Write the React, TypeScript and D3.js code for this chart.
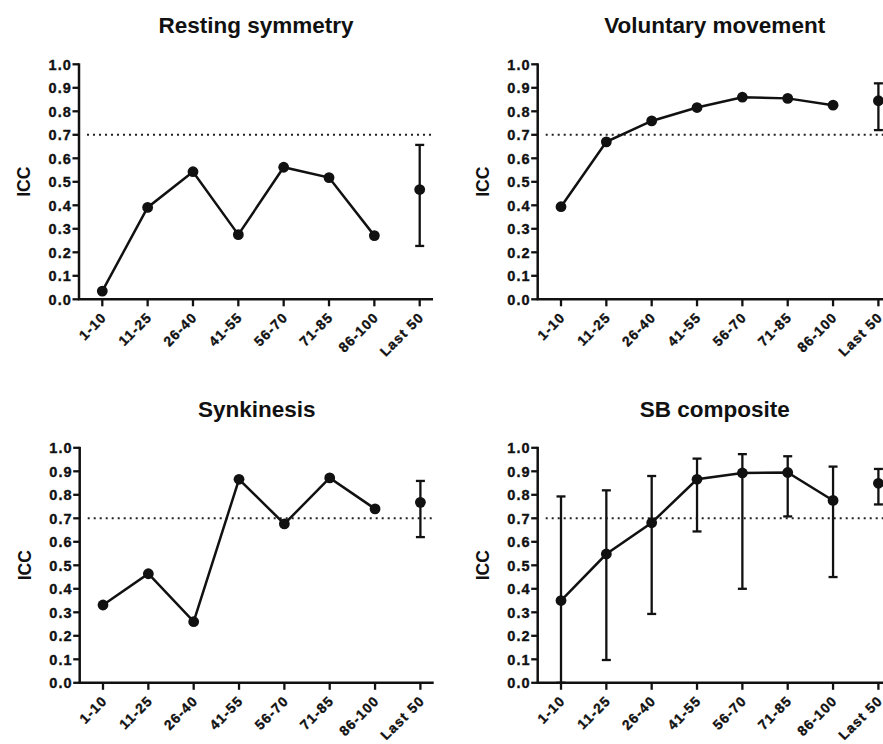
import React from "react";
import * as d3 from "d3";

const categories = ["1-10", "11-25", "26-40", "41-55", "56-70", "71-85", "86-100", "Last 50"];
const yTicks = [0, 0.1, 0.2, 0.3, 0.4, 0.5, 0.6, 0.7, 0.8, 0.9, 1.0];
const threshold = 0.7;

const titles = ["Resting symmetry", "Voluntary movement", "Synkinesis", "SB composite"];

const restingValues = [0.035, 0.391, 0.543, 0.275, 0.562, 0.518, 0.271, 0.467];
const restingLower = [null, null, null, null, null, null, null, 0.227];
const restingUpper = [null, null, null, null, null, null, null, 0.657];

const voluntaryValues = [0.394, 0.67, 0.759, 0.816, 0.86, 0.855, 0.826, 0.845];
const voluntaryLower = [null, null, null, null, null, null, null, 0.72];
const voluntaryUpper = [null, null, null, null, null, null, null, 0.919];

const synkinesisValues = [0.331, 0.464, 0.26, 0.866, 0.676, 0.872, 0.74, 0.768];
const synkinesisLower = [null, null, null, null, null, null, null, 0.62];
const synkinesisUpper = [null, null, null, null, null, null, null, 0.859];

const compositeValues = [0.35, 0.548, 0.681, 0.866, 0.893, 0.895, 0.776, 0.849];
const compositeLower = [0.0, 0.097, 0.293, 0.644, 0.4, 0.708, 0.45, 0.759];
const compositeUpper = [0.793, 0.819, 0.88, 0.954, 0.973, 0.964, 0.92, 0.91];

const panelValues = [restingValues, voluntaryValues, synkinesisValues, compositeValues];
const panelLower = [restingLower, voluntaryLower, synkinesisLower, compositeLower];
const panelUpper = [restingUpper, voluntaryUpper, synkinesisUpper, compositeUpper];

const W = 883;
const H = 744;
const panelOffsets = [
  [0, 0],
  [458.7, 0],
  [0.7, 383.5],
  [458.7, 383.5],
];

const FONT = "'Liberation Sans', Arial, Helvetica, sans-serif";

function Panel({ idx }: { idx: number }) {
  const [ox, oy] = panelOffsets[idx];
  const axisX0 = 79;
  const axisX1 = 433;
  const yTop = 64.3;
  const yBottom = 299.3;
  const y = d3.scaleLinear().domain([0, 1]).range([yBottom, yTop]);
  const x = d3.scalePoint<string>().domain(categories).range([102.3, 419.7]);
  const vals = panelValues[idx];
  const lo = panelLower[idx];
  const hi = panelUpper[idx];
  const nLine = categories.length - 1;
  const lineGen = d3
    .line<number>()
    .x((_, i) => x(categories[i]) as number)
    .y((d) => y(d));
  const linePath = lineGen(vals.slice(0, nLine)) || "";
  const fmt = d3.format(".1f");
  const capHalf = 4.5;
  return (
    <g transform={`translate(${ox},${oy})`}>
      <text
        x={(axisX0 + axisX1) / 2}
        y={33}
        textAnchor="middle"
        fontFamily={FONT}
        fontWeight="bold"
        fontSize={22.5}
        fill="#111"
      >
        {titles[idx]}
      </text>
      <text
        transform={`translate(24,${(yTop + yBottom) / 2}) rotate(-90)`}
        textAnchor="middle"
        dy="0.35em"
        fontFamily={FONT}
        fontWeight="bold"
        fontSize={17.5}
        fill="#111"
      >
        ICC
      </text>
      {/* threshold dotted line */}
      <line
        x1={axisX0 + 8}
        x2={axisX1}
        y1={y(threshold)}
        y2={y(threshold)}
        stroke="#222"
        strokeWidth={2}
        strokeDasharray="2,4"
      />
      {/* y axis */}
      <line x1={axisX0} x2={axisX0} y1={yTop - 1} y2={yBottom} stroke="#111" strokeWidth={2.5} />
      {yTicks.map((t) => (
        <g key={t}>
          <line x1={axisX0 - 6.5} x2={axisX0} y1={y(t)} y2={y(t)} stroke="#111" strokeWidth={2.3} />
          <text
            x={axisX0 - 7}
            y={y(t)}
            dy="0.38em"
            textAnchor="end"
            fontFamily={FONT}
            fontWeight="bold"
            fontSize={14.5}
            letterSpacing={1.1}
            stroke="#111"
            strokeWidth={0.35}
            fill="#111"
          >
            {fmt(t)}
          </text>
        </g>
      ))}
      {/* x axis */}
      <line x1={axisX0 - 1} x2={axisX1} y1={yBottom} y2={yBottom} stroke="#111" strokeWidth={2.5} />
      {categories.map((c) => {
        const cx = x(c) as number;
        return (
          <g key={c}>
            <line x1={cx} x2={cx} y1={yBottom} y2={yBottom + 7} stroke="#111" strokeWidth={2.3} />
            <text
              transform={`translate(${cx + 5},${yBottom + 19}) rotate(-45)`}
              textAnchor="end"
              fontFamily={FONT}
              fontWeight="bold"
              fontSize={13.8}
              letterSpacing={1.1}
              stroke="#111"
              strokeWidth={0.35}
              fill="#111"
            >
              {c}
            </text>
          </g>
        );
      })}
      {/* error bars */}
      {categories.map((c, i) => {
        const l = lo[i];
        const h = hi[i];
        if (l === null || h === null) return null;
        const cx = x(c) as number;
        return (
          <g key={"e" + c} stroke="#111" strokeWidth={2.3}>
            <line x1={cx} x2={cx} y1={y(l)} y2={y(h)} />
            <line x1={cx - capHalf} x2={cx + capHalf} y1={y(h)} y2={y(h)} />
            <line x1={cx - capHalf} x2={cx + capHalf} y1={y(l)} y2={y(l)} />
          </g>
        );
      })}
      {/* connecting line */}
      <path d={linePath} fill="none" stroke="#111" strokeWidth={2.5} />
      {vals.map((v, i) => (
        <circle key={"p" + i} cx={x(categories[i]) as number} cy={y(v)} r={5.4} fill="#111" />
      ))}
    </g>
  );
}

export default function App() {
  return (
    <svg
      width={W}
      height={H}
      viewBox={`0 0 ${W} ${H}`}
      style={{ position: "absolute", left: 0, top: 0, background: "#fff" }}
    >
      <rect x={0} y={0} width={W} height={H} fill="#fff" />
      {[0, 1, 2, 3].map((i) => (
        <Panel key={i} idx={i} />
      ))}
    </svg>
  );
}
